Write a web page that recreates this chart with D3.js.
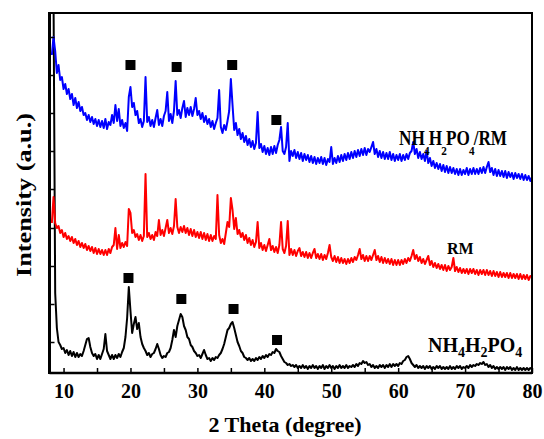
<!DOCTYPE html>
<html>
<head>
<meta charset="utf-8">
<script src="https://cdn.jsdelivr.net/npm/d3@7"></script>
<style>
body { margin: 0; background: #fff; }
svg text { font-family: "Liberation Serif", "Times New Roman", serif; font-weight: bold; }
</style>
</head>
<body>
<svg id="chart" width="544" height="439"></svg>
<script>
// XRD patterns, 2theta from 8.25 to 80 deg every 0.25 deg.
// Intensities are in arbitrary units and already stacked (offset) as in the figure.
var THETA_START = 8.25, THETA_STEP = 0.25;

var compositeCounts = [ // NH4H2PO4/RM, blue
	318,336,322,300,308,293,296,284,289,279,284,274,279,268,275,265,271,262,266,258,
	260,253,258,251,256,249,254,247,253,246,252,245,254,244,251,248,258,250,268,252,
	264,247,253,245,250,242,276,286,266,270,258,262,250,254,246,252,296,251,256,247,
	253,246,255,263,248,254,247,257,262,281,252,259,250,262,292,258,263,255,265,272,
	256,265,258,266,257,264,275,258,262,254,260,251,257,249,254,246,252,244,250,255,
	283,246,240,248,243,252,262,294,268,243,250,238,244,234,240,231,237,228,234,226,
	232,224,230,261,225,229,221,227,219,225,218,226,219,227,220,228,233,246,222,219,
	226,250,212,222,217,223,215,221,214,220,212,219,213,218,211,217,210,216,209,215,
	210,216,209,215,208,214,211,226,209,215,210,217,211,218,212,219,213,220,214,221,
	215,222,216,223,217,224,218,225,218,224,221,226,231,219,224,216,222,215,221,214,
	220,214,221,213,219,212,218,213,219,212,218,213,219,214,220,222,231,219,224,215,
	221,214,219,212,222,210,215,207,212,205,210,204,209,202,208,201,207,200,206,200,
	205,199,204,198,204,198,203,199,205,198,204,199,205,199,204,199,205,200,206,200,
	206,211,201,205,198,204,197,203,197,202,196,202,195,201,196,200,194,200,195,199,
	194,199,193,198,193,197,192,196
];

var rmCounts = [ // RM, red
	150,176,150,145,147,140,143,136,140,134,137,132,136,130,134,128,132,126,130,125,
	129,123,127,122,126,120,125,119,124,119,123,118,123,118,124,120,126,128,145,124,
	138,125,130,126,131,127,164,160,140,143,136,139,133,138,132,137,199,136,140,134,
	138,133,141,137,153,138,143,137,145,153,140,145,139,147,174,146,140,146,141,147,
	140,145,138,144,137,143,136,141,135,141,134,140,133,139,132,138,132,137,134,178,
	138,130,134,129,140,151,146,175,163,144,155,139,143,136,140,133,138,130,135,128,
	133,126,131,151,125,130,123,128,122,128,134,123,127,121,126,120,128,151,124,120,
	127,152,118,124,118,123,117,122,125,117,121,116,121,115,120,115,120,124,115,119,
	114,119,113,118,114,120,128,116,112,117,111,116,110,115,110,114,109,114,110,115,
	111,116,113,118,124,114,118,112,117,112,117,113,118,123,113,117,111,116,110,115,
	110,114,109,114,108,113,108,113,108,113,109,114,110,115,112,117,123,114,118,112,
	116,110,114,109,113,117,108,112,106,110,105,109,104,108,103,108,102,107,103,106,
	115,102,106,101,105,100,104,100,104,99,104,100,104,99,103,98,103,99,103,98,
	103,98,102,97,102,97,101,96,101,96,100,96,100,95,100,95,99,95,99,94,
	99,94,98,94,98,93,97,96
];

var nhCounts = [ // NH4H2PO4, black
	400,380,80,45,31,28,24,25,20,23,18,22,17,21,16,20,16,19,17,22,
	28,34,35,26,20,17,19,14,18,14,19,24,39,22,18,14,18,14,18,15,
	19,16,21,25,36,55,86,62,40,49,56,44,50,36,29,25,22,18,20,16,
	19,20,24,29,24,18,15,17,16,20,21,25,33,43,36,47,53,59,56,47,
	43,36,34,28,26,22,20,17,18,15,19,23,18,14,15,12,15,13,16,15,
	18,20,24,29,36,43,45,49,51,45,38,31,27,22,20,16,15,13,15,12,
	14,12,15,13,16,14,17,15,18,16,19,18,21,20,24,22,21,17,14,11,
	10,8,9,7,8,6,8,5,7,5,8,5,7,4,7,5,8,5,7,4,
	7,5,8,4,7,5,8,5,7,4,7,5,8,5,7,5,8,5,7,6,
	8,6,9,7,10,9,12,10,11,8,9,6,8,5,7,5,8,6,8,5,
	8,6,9,6,9,7,9,7,10,9,12,13,16,17,14,10,8,6,8,5,
	7,5,7,4,7,5,7,4,6,4,7,5,7,4,6,4,6,4,7,4,
	6,4,7,5,7,4,6,5,7,5,8,6,8,7,9,8,10,9,11,8,
	9,6,8,5,7,4,6,4,6,4,6,3,6,4,6,3,5,3,6,3,
	5,3,5,3,5,3,5,4
];

// NH4H2PO4 reflections marked with squares: [2theta, intensity]
var compositeMarks = [[20.0, 308], [26.9, 306], [35.2, 308], [41.8, 253]];
var nhMarks = [[19.7, 95], [27.6, 74], [35.4, 64], [41.9, 33]];

var xTicks = [10, 20, 30, 40, 50, 60, 70, 80];
var xMinorTicks = [15, 25, 35, 45, 55, 65, 75];
var yTicks = [31, 69, 107, 145, 184, 222, 260, 298, 336];

var plot = {left: 49.5, right: 532, top: 13, bottom: 373};

var svg = d3.select("#chart");

var x = d3.scaleLinear().domain([7.9, 80]).range([plot.left, plot.right]);
var y = d3.scaleLinear().domain([0, 360]).range([plot.bottom, plot.top]);

svg.append("defs").append("clipPath").attr("id", "plotclip")
	.append("rect")
	.attr("x", plot.left).attr("y", plot.top)
	.attr("width", plot.right - plot.left).attr("height", plot.bottom - plot.top);

var line = d3.line()
	.x(function(d, i) { return x(THETA_START + i * THETA_STEP); })
	.y(function(d) { return y(d); });

var traces = svg.append("g").attr("clip-path", "url(#plotclip)");
[[nhCounts, "#000000"], [rmCounts, "#ff0000"], [compositeCounts, "#0000ff"]].forEach(function(s) {
	traces.append("path")
		.datum(s[0])
		.attr("d", line)
		.attr("fill", "none")
		.attr("stroke", s[1])
		.attr("stroke-width", 2)
		.attr("stroke-linejoin", "round");
});

// square markers
svg.append("g").selectAll("rect")
	.data(compositeMarks.concat(nhMarks))
	.enter().append("rect")
	.attr("x", function(d) { return x(d[0]) - 5; })
	.attr("y", function(d) { return y(d[1]) - 5; })
	.attr("width", 10).attr("height", 10)
	.attr("fill", "#000");

// axes (ticks point inwards)
var gx = svg.append("g").attr("transform", "translate(0," + plot.bottom + ")")
	.call(d3.axisBottom(x).tickValues(xTicks).tickSizeInner(-5).tickSizeOuter(0)
		.tickPadding(11).tickFormat(d3.format("d")));
gx.select(".domain").remove();
gx.selectAll("line").attr("stroke-width", 1.5);
gx.selectAll("text").attr("font-size", 20).attr("fill", "#000")
	.style("font-family", '"Liberation Serif", serif').style("font-weight", "bold");

var gxm = svg.append("g").attr("transform", "translate(0," + plot.bottom + ")")
	.call(d3.axisBottom(x).tickValues(xMinorTicks).tickSizeInner(-5).tickSizeOuter(0).tickFormat(""));
gxm.select(".domain").remove();
gxm.selectAll("line").attr("stroke-width", 1.5);

var gy = svg.append("g").attr("transform", "translate(" + plot.left + ",0)")
	.call(d3.axisLeft(y).tickValues(yTicks).tickSizeInner(-5).tickSizeOuter(0).tickFormat(""));
gy.select(".domain").remove();
gy.selectAll("line").attr("stroke-width", 1.5);

// frame
svg.append("rect")
	.attr("x", plot.left).attr("y", plot.top)
	.attr("width", plot.right - plot.left).attr("height", plot.bottom - plot.top)
	.attr("fill", "none").attr("stroke", "#000").attr("stroke-width", 2);
svg.append("line")
	.attr("x1", plot.left).attr("x2", plot.left).attr("y1", plot.top - 1).attr("y2", plot.bottom + 1)
	.attr("stroke", "#000").attr("stroke-width", 3);
svg.append("line")
	.attr("x1", plot.left).attr("x2", plot.right).attr("y1", plot.bottom).attr("y2", plot.bottom)
	.attr("stroke", "#000").attr("stroke-width", 2.5);

// axis titles
svg.append("text")
	.attr("x", 285).attr("y", 432)
	.attr("text-anchor", "middle").attr("font-size", 22)
	.text("2 Theta (degree)");

svg.append("text")
	.attr("transform", "translate(31,195) rotate(-90)")
	.attr("text-anchor", "middle").attr("font-size", 22)
	.attr("textLength", 164).attr("lengthAdjust", "spacingAndGlyphs")
	.text("Intensity (a.u.)");

// curve labels, digits are set as subscripts
function formula(g, parts, size, subSize, subDrop, squeeze) {
	var t = g.append("text").attr("font-size", size);
	var prevSub = false;
	parts.forEach(function(p, i) {
		var isSub = /^\d$/.test(p);
		var dy = 0;
		if (isSub && !prevSub) dy = subDrop;
		if (!isSub && prevSub) dy = -subDrop;
		var dx = (squeeze && i > 0) ? -1 : 0;
		t.append("tspan")
			.attr("font-size", isSub ? subSize : size)
			.attr("dy", dy)
			.attr("dx", dx)
			.text(p);
		prevSub = isSub;
	});
	return t;
}

var l1 = svg.append("g").attr("transform", "translate(399,145) scale(0.86,1)");
formula(l1, ["NH", "4", "H", "2", "PO", "4", "/RM"], 20, 13, 10, true);

svg.append("text").attr("x", 447).attr("y", 254).attr("font-size", 16).text("RM");

var l3 = svg.append("g").attr("transform", "translate(428,352)");
formula(l3, ["NH", "4", "H", "2", "PO", "4"], 20, 14, 5, false);
</script>
</body>
</html>
